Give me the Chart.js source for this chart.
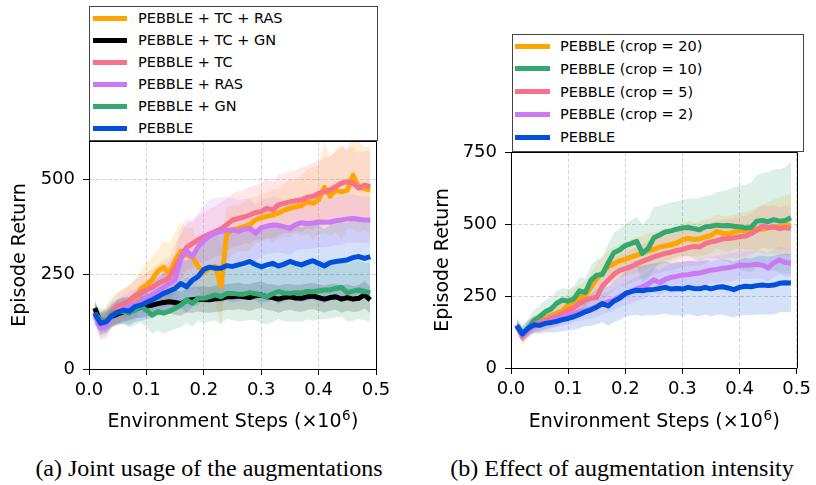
<!DOCTYPE html>
<html>
<head>
<meta charset="utf-8">
<script src="https://cdn.jsdelivr.net/npm/chart.js@4.4.1/dist/chart.umd.min.js"></script>
<style>
body { margin:0; background:#fff; }
#page { position:relative; width:816px; height:485px; overflow:hidden; background:#fff; }
canvas { position:absolute; top:0; }
.legend { position:absolute; background:#fff; border:1px solid #444; box-sizing:border-box; }
.row { position:absolute; height:20px; line-height:20px; font-family:"DejaVu Sans", sans-serif; font-size:14.5px; color:#000; white-space:nowrap; }
.handle { position:absolute; height:5px; }
.caption { position:absolute; top:456px; width:400px; text-align:center; line-height:24px; font-family:"Liberation Serif", "Times New Roman", serif; font-size:24px; color:#000; white-space:nowrap; }
</style>
</head>
<body>
<div id="page">
  <canvas id="jointChart" width="408" height="440" style="left:0px"></canvas>
  <canvas id="cropChart" width="408" height="440" style="left:408px"></canvas>
  <div id="legendA" class="legend" style="left:89px; top:6px; width:289px; height:135px"></div>
  <div id="legendB" class="legend" style="left:512px; top:34px; width:292px; height:118px"></div>
  <div class="caption" style="left:9px">(a) Joint usage of the augmentations</div>
  <div class="caption" style="left:422px">(b) Effect of augmentation intensity</div>
</div>
<script>
var steps = [0.01,0.02,0.03,0.04,0.05,0.06,0.07,0.08,0.09,0.10,
             0.11,0.12,0.13,0.14,0.15,0.16,0.17,0.18,0.19,0.20,
             0.21,0.22,0.23,0.24,0.25,0.26,0.27,0.28,0.29,0.30,
             0.31,0.32,0.33,0.34,0.35,0.36,0.37,0.38,0.39,0.40,
             0.41,0.42,0.43,0.44,0.45,0.46,0.47,0.48,0.49];
var xTicks = [0, 0.1, 0.2, 0.3, 0.4, 0.5];

// (a) joint usage
var labelsA = ['PEBBLE + TC + RAS', 'PEBBLE + TC + GN', 'PEBBLE + TC', 'PEBBLE + RAS', 'PEBBLE + GN', 'PEBBLE'];
var colorsA = ['#FFA500', '#000000', '#F7718A', '#CC7AF4', '#33A870', '#0050DC'];
var tcRas = [150,110,128,148,158,165,172,180,210,220,235,258,268,250,285,310,300,296,270,255,265,270,218,355,366,370,375,380,392,398,402,405,410,418,423,427,430,440,436,445,478,455,470,466,470,510,478,475,471];
var tcGn = [160,122,128,138,145,150,155,160,162,166,168,172,175,177,175,172,180,182,184,183,182,185,186,190,190,192,190,188,193,195,190,188,184,188,190,187,186,190,192,188,184,188,190,184,188,184,186,195,182];
var tc = [148,118,130,150,168,172,180,192,200,208,215,225,232,240,268,295,320,330,340,348,355,362,368,380,392,396,400,405,412,414,423,418,432,436,440,443,445,452,454,462,466,471,480,489,493,489,476,484,480];
var ras = [140,108,112,140,152,158,165,172,180,188,195,205,215,225,235,290,312,295,322,338,350,358,362,366,366,362,368,370,357,372,376,379,378,374,370,380,385,383,384,387,386,387,390,392,395,396,394,392,392];
var gn = [145,130,126,145,150,152,147,155,164,155,142,151,147,152,160,168,182,173,186,186,190,195,190,199,199,197,197,201,198,195,190,198,204,200,199,201,200,204,203,206,208,208,212,215,201,205,208,204,201];
var pebbleA = [147,120,124,140,150,155,152,164,168,175,182,190,199,205,212,225,216,234,243,262,268,265,265,272,270,274,278,283,275,269,274,278,271,276,283,278,274,280,285,278,271,280,283,285,287,293,296,291,296];
var tcRasSd = [30,35,40,40,42,45,50,55,50,60,60,55,70,80,75,80,70,75,60,75,80,90,110,70,65,60,65,70,60,65,60,70,65,70,75,70,80,85,95,90,120,105,110,125,100,140,120,110,115];
var tcGnSd = [20,22,22,24,25,25,26,26,28,28,28,30,30,30,32,32,32,34,33,34,34,35,35,34,35,35,34,36,35,35,34,35,36,35,34,35,36,35,34,35,36,35,34,36,35,34,35,36,35];
var tcSd = [25,30,30,32,35,38,40,42,45,45,48,50,55,55,60,62,60,65,62,65,68,65,70,68,70,72,70,75,72,75,78,75,80,78,82,80,85,82,88,85,90,88,92,95,90,95,92,90,95];
var rasSd = [25,28,30,30,32,35,38,40,42,45,48,50,55,60,70,80,85,90,88,92,95,92,90,88,85,82,80,78,75,75,72,75,72,70,70,68,70,68,66,68,65,66,64,65,62,64,62,60,62];
var gnSd = [25,30,30,32,35,35,38,40,42,45,48,50,55,52,55,58,60,62,60,65,65,68,70,68,70,72,70,72,70,74,72,74,72,75,74,76,75,74,76,75,78,76,75,78,76,78,77,76,78];
var pebbleASd = [25,30,30,30,32,35,38,40,42,45,48,50,55,58,60,65,68,70,75,80,85,88,90,92,95,95,96,98,95,97,98,96,100,98,97,100,98,100,102,100,98,100,102,100,98,100,102,100,100];
var yTicksA = [0, 250, 500];
var yMaxA = 600;

// (b) crop intensity
var labelsB = ['PEBBLE (crop = 20)', 'PEBBLE (crop = 10)', 'PEBBLE (crop = 5)', 'PEBBLE (crop = 2)', 'PEBBLE'];
var colorsB = ['#FFA500', '#33A870', '#F7718A', '#CC7AF4', '#0050DC'];
var crop20 = [149,108,132,150,162,172,180,190,200,218,232,245,252,280,310,330,352,362,372,378,385,392,398,408,412,420,424,428,434,445,450,446,448,455,460,474,468,466,472,478,476,480,484,482,486,490,492,494,496];
var crop10 = [149,122,138,165,178,195,205,225,236,232,240,268,262,305,322,325,365,400,410,425,432,440,398,415,452,462,472,476,482,486,488,484,480,490,492,496,494,495,492,490,486,488,510,512,508,515,510,512,522];
var crop5 = [149,108,138,150,158,165,172,180,190,200,210,225,236,242,245,285,305,325,338,345,352,362,370,378,386,392,398,402,408,412,418,422,420,432,438,442,448,450,452,456,458,466,478,492,488,490,484,488,484];
var crop2 = [145,112,130,145,150,158,162,170,175,180,188,195,200,205,212,222,230,236,248,258,265,275,282,292,306,296,308,315,318,323,324,328,330,335,340,342,346,348,352,358,357,358,360,358,348,365,375,366,364];
var pebbleB = [147,118,138,150,148,155,158,162,168,172,178,186,195,202,212,224,215,232,242,258,265,270,268,272,273,276,280,274,276,274,280,276,275,280,275,280,282,278,272,280,284,282,286,288,286,288,294,296,295];
var crop20Sd = [20,25,28,30,32,35,35,38,40,42,45,45,48,50,52,55,55,58,58,60,60,62,60,62,60,58,60,58,60,58,60,58,60,62,60,58,60,62,60,62,65,70,75,85,90,95,100,105,110];
var crop10Sd = [25,30,32,35,38,40,40,42,42,42,45,48,50,52,55,60,65,70,72,75,80,85,100,105,108,100,98,98,97,97,100,105,110,108,108,115,120,125,135,145,150,155,160,165,172,175,180,185,194];
var crop5Sd = [20,25,28,30,30,32,32,35,35,38,40,40,42,45,48,50,52,55,55,58,58,60,60,62,60,62,60,62,64,62,64,66,65,68,66,68,70,68,70,72,70,72,74,72,75,74,75,76,75];
var crop2Sd = [18,20,22,22,25,25,26,28,28,30,30,32,32,34,35,35,36,38,38,40,40,42,42,44,45,44,45,46,45,46,46,45,46,48,46,48,46,48,47,48,48,47,48,50,48,50,48,50,48];
var pebbleBSd = [20,25,25,28,30,32,35,38,40,42,45,48,50,55,60,65,68,72,75,80,82,85,88,88,90,90,92,90,92,94,92,94,95,94,96,95,96,98,96,98,100,98,100,102,100,102,100,102,100];
var yTicksB = [0, 250, 500, 750];
var yMaxB = 750;

var FONT = 'DejaVu Sans';

function hexToRgba(hex, a) {
    var r = parseInt(hex.substr(1, 2), 16);
    var g = parseInt(hex.substr(3, 2), 16);
    var b = parseInt(hex.substr(5, 2), 16);
    return 'rgba(' + r + ',' + g + ',' + b + ',' + a + ')';
}

function toPoints(values, sd, sign) {
    return values.map(function(v, k) {
        return {x: steps[k], y: sd ? v + sign * sd[k] : v};
    });
}

function buildDatasets(means, sds, colors) {
    var bands = [];
    var lines = [];
    var n = means.length;
    means.forEach(function(m, i) {
        bands.push({
            data: toPoints(m, sds[i], 1),
            fill: '+1',
            backgroundColor: hexToRgba(colors[i], 0.17),
            borderWidth: 0,
            pointRadius: 0,
            order: 100 + n - i
        });
        bands.push({
            data: toPoints(m, sds[i], -1),
            fill: false,
            borderWidth: 0,
            pointRadius: 0,
            order: 100 + n - i
        });
        lines.push({
            data: toPoints(m),
            borderColor: colors[i],
            borderWidth: 5,
            borderJoinStyle: 'round',
            pointRadius: 0,
            fill: false,
            tension: 0,
            order: n - 1 - i
        });
    });
    return bands.concat(lines);
}

// top/right spines and the x title with a real superscript
var boxPlugin = {
    id: 'boxPlugin',
    afterDraw: function(chart) {
        var a = chart.chartArea;
        var ctx = chart.ctx;
        ctx.save();
        ctx.strokeStyle = '#000';
        ctx.lineWidth = 1;
        ctx.beginPath();
        ctx.moveTo(Math.round(a.left) + 0.5, Math.round(a.top) + 0.5);
        ctx.lineTo(Math.round(a.right) + 0.5, Math.round(a.top) + 0.5);
        ctx.lineTo(Math.round(a.right) + 0.5, Math.round(a.bottom) + 0.5);
        ctx.stroke();

        var main = 'Environment Steps (\u00d710';
        var sup = '6';
        var close = ')';
        ctx.fillStyle = '#000';
        ctx.textBaseline = 'alphabetic';
        ctx.textAlign = 'left';
        ctx.font = '19px "' + FONT + '"';
        var w1 = ctx.measureText(main).width;
        var w3 = ctx.measureText(close).width;
        ctx.font = '13.5px "' + FONT + '"';
        var w2 = ctx.measureText(sup).width;
        var x0 = (a.left + a.right) / 2 - (w1 + w2 + w3) / 2;
        var base = 426.5;
        ctx.font = '19px "' + FONT + '"';
        ctx.fillText(main, x0, base);
        ctx.font = '13.5px "' + FONT + '"';
        ctx.fillText(sup, x0 + w1 + 0.5, base - 7);
        ctx.font = '19px "' + FONT + '"';
        ctx.fillText(close, x0 + w1 + w2 + 1, base);
        ctx.restore();
    }
};

function makeChart(id, datasets, yTicks, yMax, lay) {
    var ctx = document.getElementById(id).getContext('2d');
    return new Chart(ctx, {
        type: 'line',
        data: {datasets: datasets},
        plugins: [boxPlugin],
        options: {
            responsive: false,
            animation: false,
            layout: {padding: {left: 0, right: lay.right, top: lay.top, bottom: 0}},
            plugins: {
                legend: {display: false},
                tooltip: {enabled: false},
                filler: {drawTime: 'beforeDatasetsDraw'}
            },
            scales: {
                x: {
                    type: 'linear',
                    min: 0,
                    max: 0.5,
                    afterBuildTicks: function(axis) {
                        axis.ticks = xTicks.map(function(v) { return {value: v}; });
                    },
                    afterFit: function(axis) { axis.height = lay.xHeight; },
                    ticks: {
                        font: {family: FONT, size: 18},
                        color: '#000',
                        padding: 5,
                        maxRotation: 0,
                        minRotation: 0,
                        autoSkip: false,
                        callback: function(v) { return Number(v).toFixed(1); }
                    },
                    grid: {color: 'rgba(0,0,0,0.17)', tickColor: '#000', tickLength: 6, lineWidth: 1},
                    border: {color: '#000', width: 1, dash: [4, 2]},
                    title: {display: false}
                },
                y: {
                    type: 'linear',
                    min: 0,
                    max: yMax,
                    afterBuildTicks: function(axis) {
                        axis.ticks = yTicks.map(function(v) { return {value: v}; });
                    },
                    afterFit: function(axis) { axis.width = lay.yWidth; },
                    ticks: {font: {family: FONT, size: 18}, color: '#000', padding: 8},
                    grid: {color: 'rgba(0,0,0,0.17)', tickColor: '#000', tickLength: 6, lineWidth: 1},
                    border: {color: '#000', width: 1, dash: [4, 2]},
                    title: {
                        display: true,
                        text: 'Episode Return',
                        font: {family: FONT, size: 19},
                        color: '#000',
                        padding: {top: lay.yTitlePad, bottom: 0}
                    }
                }
            }
        }
    });
}

function buildLegend(id, labels, colors, rowGap, handleLeft, handleWidth, textLeft) {
    var box = document.getElementById(id);
    labels.forEach(function(label, i) {
        var center = 11 + i * rowGap;
        var handle = document.createElement('div');
        handle.className = 'handle';
        handle.style.left = handleLeft + 'px';
        handle.style.width = handleWidth + 'px';
        handle.style.top = (center - 2.5) + 'px';
        handle.style.background = colors[i];
        box.appendChild(handle);
        var row = document.createElement('div');
        row.className = 'row';
        row.style.left = textLeft + 'px';
        row.style.top = (center - 10) + 'px';
        row.textContent = label;
        box.appendChild(row);
    });
}

function drawAll() {
    var dsA = buildDatasets([tcRas, tcGn, tc, ras, gn, pebbleA],
                            [tcRasSd, tcGnSd, tcSd, rasSd, gnSd, pebbleASd], colorsA);
    makeChart('jointChart', dsA, yTicksA, yMaxA, {right: 32, top: 141, xHeight: 71, yWidth: 89, yTitlePad: 8.6});

    var dsB = buildDatasets([crop20, crop10, crop5, crop2, pebbleB],
                            [crop20Sd, crop10Sd, crop5Sd, crop2Sd, pebbleBSd], colorsB);
    makeChart('cropChart', dsB, yTicksB, yMaxB, {right: 17, top: 152, xHeight: 72, yWidth: 103, yTitlePad: 23.6});

    buildLegend('legendA', labelsA, colorsA, 22, 3, 34, 48);
    buildLegend('legendB', labelsB, colorsB, 22.8, 2, 35, 47);
}

window.addEventListener('load', drawAll);
</script>
</body>
</html>
